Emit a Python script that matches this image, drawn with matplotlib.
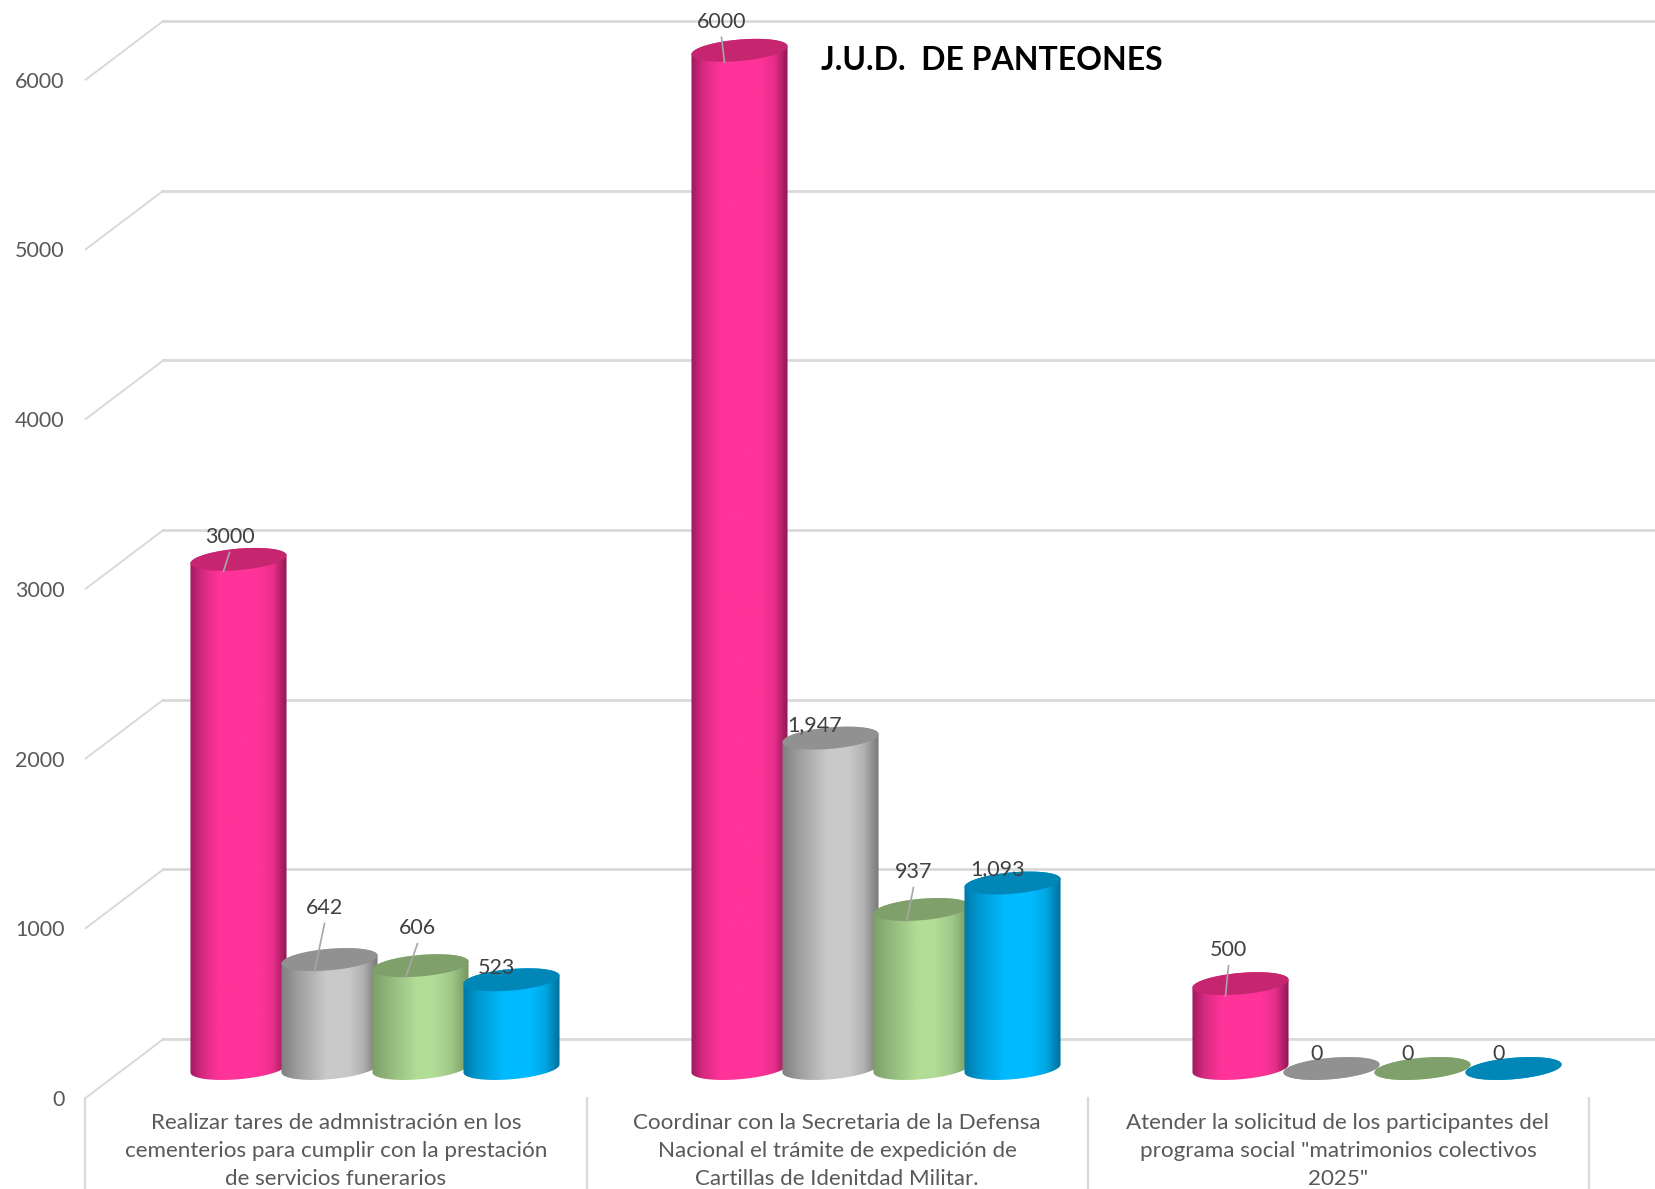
import numpy as np
import matplotlib
matplotlib.use("Agg")
import matplotlib.pyplot as plt
from matplotlib.colors import LinearSegmentedColormap
from matplotlib.patches import Polygon

plt.rcParams['font.family'] = ['Lato', 'DejaVu Sans']

# data
categories = [
    "Realizar tares de admnistración en los\ncementerios para cumplir con la prestación\nde servicios funerarios",
    "Coordinar con la Secretaria de la Defensa\nNacional el trámite de expedición de\nCartillas de Idenitdad Militar.",
    "Atender la solicitud de los participantes del\nprograma social \"matrimonios colectivos\n2025\"",
]
pink_values = [3000, 6000, 500]
grey_values = [642, 1947, 0]
green_values = [606, 937, 0]
blue_values = [523, 1093, 0]
pink_labels = ["3000", "6000", "500"]
grey_labels = ["642", "1,947", "0"]
green_labels = ["606", "937", "0"]
blue_labels = ["523", "1,093", "0"]
y_ticks = [0, 1000, 2000, 3000, 4000, 5000, 6000]
title = "J.U.D.  DE PANTEONES"

# one data unit in pixels
PX_PER_CAT = 501.0
PX_PER_VAL = 0.1697
PX_X = 1 / PX_PER_CAT
PX_Y = 1 / PX_PER_VAL
ZERO_PX = 1098.0

DEPTH_X = 78 * PX_X
DEPTH_Y = 59 * PX_Y
BAR_PITCH = 91 * PX_X

# tilted ellipse of the cylinder caps, pixels
ELL_A = 48.2
ELL_B = 10.7
ELL_ANGLE = np.radians(5)
PHI = np.arctan2(ELL_B * np.sin(ELL_ANGLE), ELL_A * np.cos(ELL_ANGLE))


def ellipse_points(cx, cy, t):
    x = ELL_A * np.cos(t) * np.cos(ELL_ANGLE) - ELL_B * np.sin(t) * np.sin(ELL_ANGLE)
    y = ELL_A * np.cos(t) * np.sin(ELL_ANGLE) + ELL_B * np.sin(t) * np.cos(ELL_ANGLE)
    return np.c_[cx + x * PX_X, cy + y * PX_Y]


def draw_cylinder(ax, cx, value, colors, top_color, z):
    base = DEPTH_Y / 2
    top = base + value
    low_arc = ellipse_points(cx, base, np.linspace(np.pi - PHI, 2 * np.pi - PHI, 60))
    up_arc = ellipse_points(cx, top, np.linspace(-PHI, np.pi - PHI, 60))
    body = Polygon(np.vstack([low_arc, up_arc]), closed=True, fc='none', ec='none',
                   transform=ax.transData)
    ax.add_patch(body)

    half = 48.2 * PX_X
    cmap = LinearSegmentedColormap.from_list("c", colors)
    im = ax.imshow(np.linspace(0, 1, 256).reshape(1, -1), cmap=cmap, aspect='auto',
                   extent=[cx - half, cx + half, base - 14 * PX_Y, top + 14 * PX_Y],
                   zorder=z, interpolation='bilinear')
    im.set_clip_path(body)

    cap = ellipse_points(cx, top, np.linspace(0, 2 * np.pi, 120))
    ax.add_patch(Polygon(cap, closed=True, fc=top_color, ec='none', zorder=z + 0.1))


def shades(dark_l, mid_l, peak, mid_r, dark_r, p0, p1):
    return [(0, dark_l), (p0 * 0.4, mid_l), (p0, peak), (p1, peak), (0.5 * (p1 + 1), mid_r), (1, dark_r)]


series = [
    (pink_values, pink_labels, shades('#9c1a5c', '#d42a80', '#ff3399', '#e62e8a', '#8f1752', 0.3, 0.72), '#c62570'),
    (grey_values, grey_labels, shades('#7f7f7f', '#a0a0a0', '#c9c9c9', '#b0b0b0', '#777777', 0.47, 0.7), '#919191'),
    (green_values, green_labels, shades('#7d9e69', '#93b97c', '#b1dd96', '#a0c888', '#76955f', 0.46, 0.64), '#7f9f6b'),
    (blue_values, blue_labels, shades('#0079a8', '#009ad4', '#00baff', '#00a6e2', '#006f99', 0.42, 0.7), '#0087b8'),
]

# label offset from the centre of the top cap, pixels (x, up), per series and category
label_offsets = [
    [(-9, 24), (-18, 30), (-12, 35)],
    [(-5, 53), (-16, 15), (-15, 16)],
    [(-3, 39), (-8, 39), (-15, 16)],
    [(-15, 13), (-15, 15), (-15, 16)],
]
leader_flags = [
    [True, True, True],
    [True, False, False],
    [True, True, False],
    [False, False, False],
]

fig = plt.figure(figsize=(16.55, 11.89), dpi=100, facecolor='white')
ax = fig.add_axes([0, 0, 1, 1])
xmin = -336 * PX_X
xmax = (1655 - 336) * PX_X
ymin = -(1189 - ZERO_PX) * PX_Y
ymax = ZERO_PX * PX_Y

# walls
grid_color = '#d9d9d9'
wall_x = -0.5
for tick in y_ticks:
    ax.plot([wall_x, wall_x + DEPTH_X], [tick, tick + DEPTH_Y], color=grid_color, lw=1.4, zorder=1,
            solid_capstyle='round')
    ax.plot([wall_x + DEPTH_X, xmax], [tick + DEPTH_Y, tick + DEPTH_Y], color=grid_color, lw=2, zorder=1)
    ax.text(wall_x - 21 * PX_X, tick - 2 * PX_Y, str(tick), ha='right', va='center', fontsize=15.5, color='#595959')

for i in range(len(categories) + 1):
    ax.plot([i - 0.5, i - 0.5], [0, ymin], color=grid_color, lw=1.6, zorder=1)

for i, label in enumerate(categories):
    ax.text(i, -15 * PX_Y, label, ha='center', va='top', fontsize=16.1, color='#595959',
            linespacing=1.5)

# cylinders
z = 2
for i in range(len(categories)):
    for j, (values, labels, colors, top_color) in enumerate(series):
        cx = i + (j - 1.5) * BAR_PITCH + DEPTH_X / 2
        draw_cylinder(ax, cx, values[i], colors, top_color, z)
        z += 1

# data labels above everything
for i in range(len(categories)):
    for j, (values, labels, colors, top_color) in enumerate(series):
        cx = i + (j - 1.5) * BAR_PITCH + DEPTH_X / 2
        top = DEPTH_Y / 2 + values[i]
        dx, dy = label_offsets[j][i]
        lx = cx + dx * PX_X
        ly = top + dy * PX_Y
        ax.text(lx, ly - 1.5 * PX_Y, labels[i], ha='center', va='center', fontsize=15.5, color='#404040', zorder=100)
        if leader_flags[j][i]:
            ax.plot([lx, cx - 15 * PX_X], [ly - 17 * PX_Y, top - 12 * PX_Y], color='#a6a6a6', lw=1.2,
                    zorder=99)

ax.text(-0.5 + (821 - 85.5) * PX_X, (ZERO_PX - 60) * PX_Y, title, ha='left', va='center',
        fontsize=23, fontweight='bold', color='black', zorder=100)

ax.set_xlim(xmin, xmax)
ax.set_ylim(ymin, ymax)
ax.axis('off')

fig.savefig("out.png", dpi=100, facecolor='white')
